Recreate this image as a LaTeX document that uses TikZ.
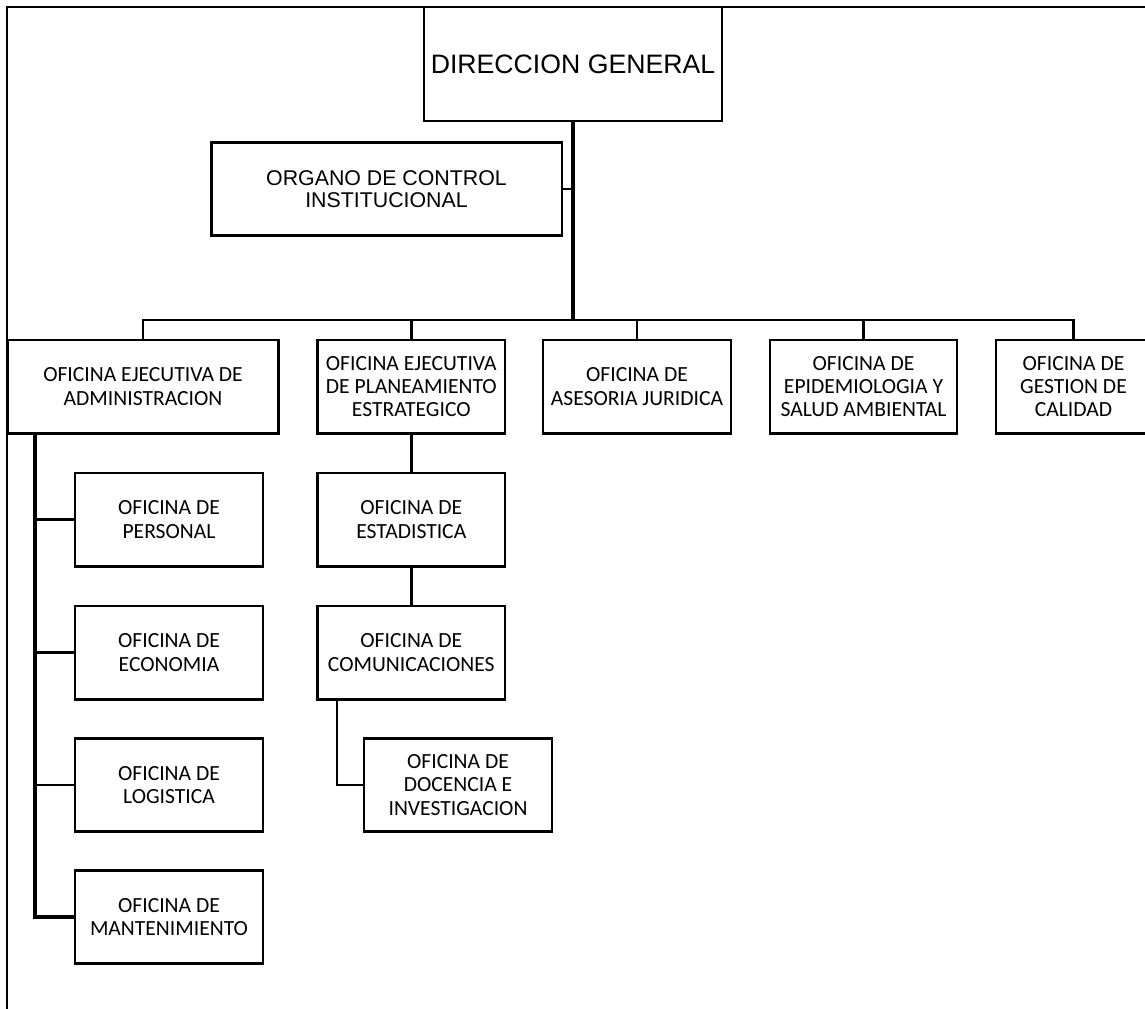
\documentclass[tikz,border=0pt]{standalone}
\usepackage{fontspec}
\newfontfamily\calibri{Carlito}
\newfontfamily\arial{Liberation Sans}
\usetikzlibrary{positioning, calc}

\tikzset{
  oficina/.style={draw, line width=2pt, align=center, inner xsep=1pt, inner ysep=2pt,
    minimum width=141pt, minimum height=70pt, font=\calibri\fontsize{16.2}{17.5}\selectfont},
  jefatura/.style={oficina, font=\arial\fontsize{16}{16.5}\selectfont},
  enlace/.style={line width=1.9pt},
  tronco/.style={line width=2.4pt},
  marco/.style={line width=1.6pt},
}

\begin{document}
\begin{tikzpicture}[x=0.75pt, y=-0.75pt]
    \useasboundingbox (0,0) rectangle (1145,1008);

    % marco
    \draw[marco] (7,1015) -- (7,7) -- (1152,7);

    % direccion y organo de control
    \node[jefatura, minimum width=223.5pt, minimum height=85.5pt,
          font=\arial\fontsize{20}{22}\selectfont] (dg) at (573,64) {DIRECCION GENERAL};
    \node[jefatura, minimum width=263pt] (oci) at (386.5,189) {ORGANO DE CONTROL\\INSTITUCIONAL};

    % primer nivel
    \node[oficina, minimum width=203.25pt] (adm) at (143,386.5) {OFICINA EJECUTIVA DE\\ADMINISTRACION};
    \node[oficina, minimum width=140.6pt] (plan) at (411.3,386.5) {OFICINA EJECUTIVA\\DE PLANEAMIENTO\\ESTRATEGICO};
    \node[oficina] (ase) at (637,386.5) {OFICINA DE\\ASESORIA JURIDICA};
    \node[oficina, minimum width=140.3pt] (epi) at (863.5,386.5) {OFICINA DE\\EPIDEMIOLOGIA Y\\SALUD AMBIENTAL};
    \node[oficina, minimum width=116.5pt] (cal) at (1073.5,386.5) {OFICINA DE\\GESTION DE\\CALIDAD};

    % administracion
    \node[oficina] (per) at (169,519.5) {OFICINA DE\\PERSONAL};
    \node[oficina] (eco) at (169,652.5) {OFICINA DE\\ECONOMIA};
    \node[oficina] (log) at (169,785) {OFICINA DE\\LOGISTICA};
    \node[oficina] (man) at (169,917) {OFICINA DE\\MANTENIMIENTO};

    % planeamiento
    \node[oficina, minimum width=140.6pt] (est) at (411.3,519.5) {OFICINA DE\\ESTADISTICA};
    \node[oficina, minimum width=140.6pt] (com) at (411.3,652.5) {OFICINA DE\\COMUNICACIONES};
    \node[oficina] (doc) at (458,785) {OFICINA DE\\DOCENCIA E\\INVESTIGACION};

    % lineas
    \coordinate (bus) at (573,320);
    \coordinate (admpie) at (35,433);
    \coordinate (compie) at (337,699);

    \draw[tronco] (dg.south) -- (bus);
    \draw[enlace] (oci.east) -- (oci.east -| dg.south);
    \foreach \o in {adm,plan,ase,epi,cal}
        \draw[enlace] (bus) -| (\o.north);

    \draw[tronco] (admpie) |- (man.west);
    \foreach \o in {per,eco,log}
        \draw[enlace] (admpie |- \o.west) -- (\o.west);

    \draw[enlace] (plan) -- (est);
    \draw[enlace] (est) -- (com);
    \draw[enlace] (compie) |- (doc.west);

\end{tikzpicture}
\end{document}
